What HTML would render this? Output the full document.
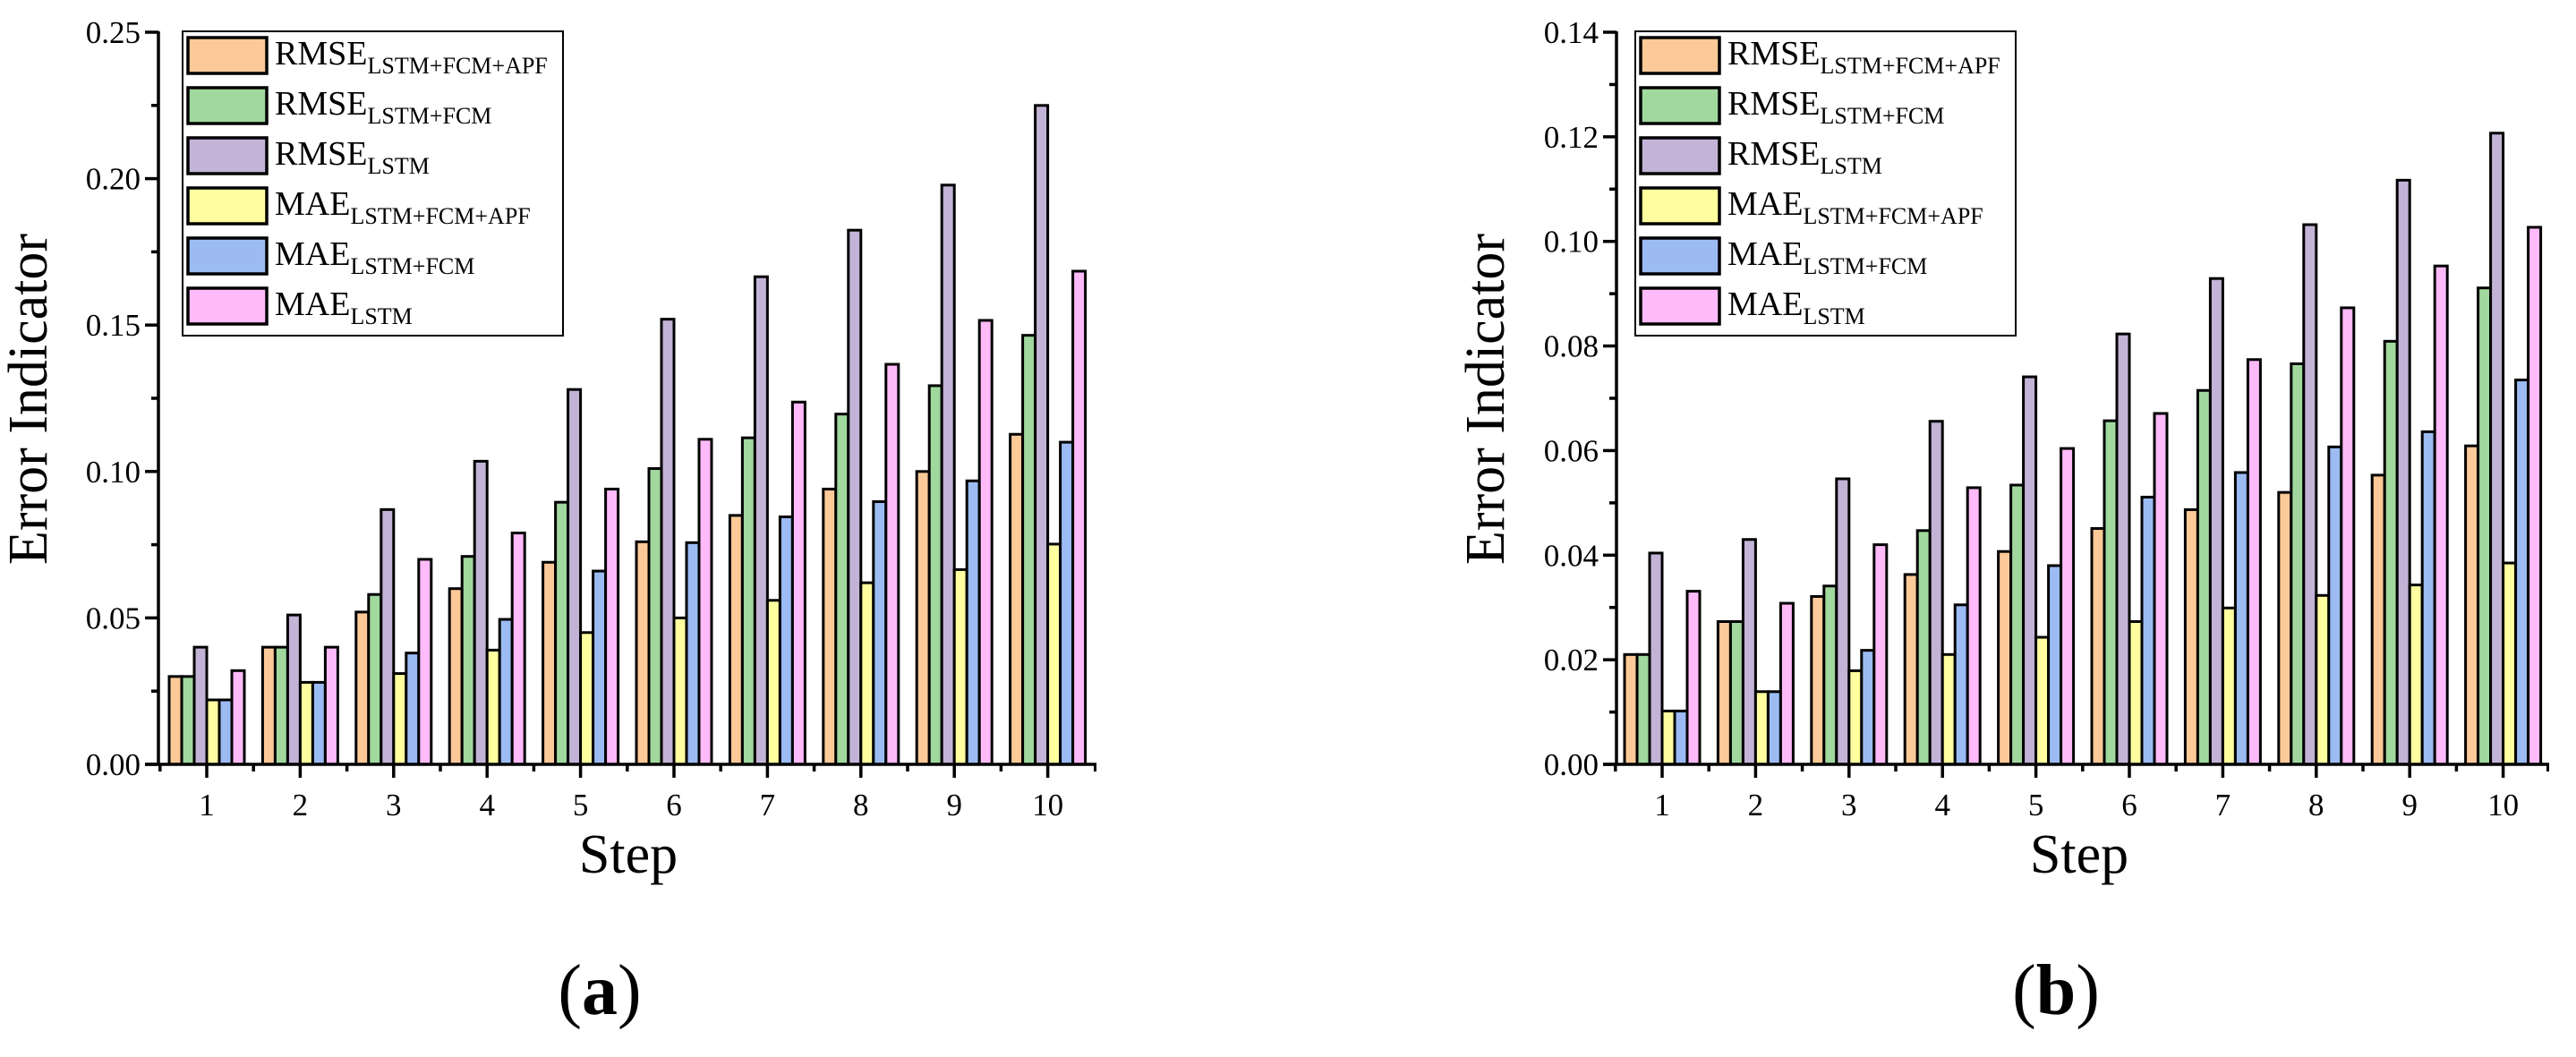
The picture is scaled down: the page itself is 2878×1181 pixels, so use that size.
<!DOCTYPE html>
<html><head><meta charset="utf-8"><style>
html,body{margin:0;padding:0;background:#fff;}
svg{display:block;}
svg text{font-family:"Liberation Serif","Times New Roman",serif;}
</style></head><body>
<svg id="fig" width="2878" height="1181" viewBox="0 0 2878 1181" xmlns="http://www.w3.org/2000/svg" font-family="Liberation Serif, serif"></svg>
<script>
const categories = [1,2,3,4,5,6,7,8,9,10];
const seriesNames = [["RMSE","LSTM+FCM+APF"],["RMSE","LSTM+FCM"],["RMSE","LSTM"],["MAE","LSTM+FCM+APF"],["MAE","LSTM+FCM"],["MAE","LSTM"]];
const seriesColors = ["#FCC998","#A0D89E","#C3B3D6","#FFFF9F","#9BBBF2","#FFBBF9"];
const aRmseApf = [0.030,0.040,0.052,0.060,0.069,0.076,0.085,0.094,0.100,0.1127];
const aRmseFcm = [0.030,0.040,0.058,0.071,0.0895,0.101,0.1115,0.1196,0.1293,0.1465];
const aRmseLstm = [0.040,0.051,0.087,0.1035,0.128,0.152,0.1665,0.1824,0.1978,0.225];
const aMaeApf = [0.022,0.028,0.031,0.039,0.045,0.050,0.056,0.062,0.0665,0.0752];
const aMaeFcm = [0.022,0.028,0.038,0.0495,0.066,0.0757,0.0845,0.0897,0.0968,0.110];
const aMaeLstm = [0.032,0.040,0.070,0.079,0.094,0.111,0.1237,0.1366,0.1516,0.1684];
const bRmseApf = [0.021,0.0273,0.0321,0.0363,0.0407,0.0451,0.0487,0.052,0.0553,0.0609];
const bRmseFcm = [0.021,0.0273,0.0341,0.0447,0.0534,0.0657,0.0715,0.0766,0.0809,0.0911];
const bRmseLstm = [0.0404,0.043,0.0546,0.0656,0.0741,0.0823,0.0929,0.1032,0.1117,0.1207];
const bMaeApf = [0.0102,0.0139,0.0179,0.021,0.0243,0.0273,0.0299,0.0323,0.0343,0.0385];
const bMaeFcm = [0.0102,0.0139,0.0218,0.0305,0.038,0.0511,0.0558,0.0607,0.0636,0.0735];
const bMaeLstm = [0.0331,0.0308,0.042,0.0529,0.0604,0.0671,0.0774,0.0873,0.0953,0.1027];
const aTicks = ["0.00","0.05","0.10","0.15","0.20","0.25"];
const bTicks = ["0.00","0.02","0.04","0.06","0.08","0.10","0.12","0.14"];

const NS="http://www.w3.org/2000/svg";
const svg=document.getElementById('fig');
const FF='Liberation Serif, serif';
function mk(tag,attrs,parent){const e=document.createElementNS(NS,tag);for(const k in attrs)e.setAttribute(k,attrs[k]);if(tag==='text')e.setAttribute('font-family',FF);(parent||svg).appendChild(e);return e;}

function panel(cfg){
  const g=mk('g',{});
  
  
  const y0=854, yTop=36, ax=cfg.ax, axEnd=cfg.axEnd;
  const yS=v=>y0-(v/cfg.ymax)*(y0-yTop);
  const xS=c=>cfg.cat1+(c-1)*104.4;
  const bw=14;
  cfg.series.forEach((arr,si)=>{
    arr.forEach((v,ci)=>{
      const x=xS(categories[ci])-42+si*bw;
      const r=mk('rect',{x:x,y:yS(v),width:bw,height:y0-yS(v),fill:seriesColors[si],stroke:'#000','stroke-width':3},g);
      
      
    });
  });
  const yAxis=mk('line',{x1:ax,y1:yTop-1,x2:ax,y2:y0+1.5,stroke:'#000','stroke-width':3.5},g);
  
  
  const xAxis=mk('line',{x1:ax-15,y1:y0,x2:axEnd,y2:y0,stroke:'#000','stroke-width':3.5},g);
  
  
  const step=cfg.ymax/(cfg.ticks.length-1);
  cfg.ticks.forEach((t,i)=>{
    const v=i*step, y=yS(v);
    mk('line',{x1:ax-15,y1:y,x2:ax,y2:y,stroke:'#000','stroke-width':3.5},g);
    const tx=mk('text',{x:ax-20,y:y+12,'font-size':35,'text-anchor':'end',fill:'#000'},g);
    tx.textContent=t;
    
    
    if(i<cfg.ticks.length-1){const ym=yS(v+step/2);mk('line',{x1:ax-8,y1:ym,x2:ax,y2:ym,stroke:'#000','stroke-width':3.5},g);}
  });
  categories.forEach(c=>{
    const x=xS(c);
    mk('line',{x1:x,y1:y0,x2:x,y2:y0+15,stroke:'#000','stroke-width':3.5},g);
    mk('line',{x1:x-52.2,y1:y0,x2:x-52.2,y2:y0+8,stroke:'#000','stroke-width':3.5},g);
    const tx=mk('text',{x:x,y:911,'font-size':35,'text-anchor':'middle',fill:'#000'},g);
    tx.textContent=c;
    
    
  });
  mk('line',{x1:axEnd-1.5,y1:y0,x2:axEnd-1.5,y2:y0+8,stroke:'#000','stroke-width':3},g);
  const yt=mk('text',{x:0,y:0,'font-size':62,'text-anchor':'middle',fill:'#000',transform:`translate(${cfg.ytx},446) rotate(-90)`},g);
  yt.textContent='Error Indicator';
  
  
  const xt=mk('text',{x:cfg.stepX,y:975,'font-size':62,'text-anchor':'middle',fill:'#000'},g);
  xt.textContent='Step';
  
  
  const lab=mk('text',{x:cfg.labX,y:1133,'font-size':80,'text-anchor':'middle',fill:'#000'},g);
  lab.innerHTML='(<tspan font-weight="bold">'+cfg.letter+'</tspan>)';
  
  
  const lg=mk('g',{},g);
  
  
  mk('rect',{x:cfg.legX,y:35,width:425,height:340,fill:'#fff',stroke:'#000','stroke-width':2},lg);
  seriesNames.forEach((n,i)=>{
    const cy=62+i*56;
    const e=mk('g',{},lg);
    
    
    mk('rect',{x:cfg.legX+6,y:cy-20,width:88,height:40,fill:seriesColors[i],stroke:'#000','stroke-width':3.5},e);
    const t=mk('text',{x:cfg.legX+103,y:cy+10,'font-size':38,fill:'#000'},e);
    t.innerHTML=n[0]+'<tspan font-size="26" dy="10">'+n[1]+'</tspan>';
  });
}
panel({name:'chart-a',letter:'a',ax:177,axEnd:1225,cat1:231,ymax:0.25,ticks:aTicks,ytx:52,stepX:702,labX:670,legX:204,
  series:[aRmseApf,aRmseFcm,aRmseLstm,aMaeApf,aMaeFcm,aMaeLstm]});
panel({name:'chart-b',letter:'b',ax:1806,axEnd:2848,cat1:1857,ymax:0.14,ticks:bTicks,ytx:1680,stepX:2323,labX:2297,legX:1827,
  series:[bRmseApf,bRmseFcm,bRmseLstm,bMaeApf,bMaeFcm,bMaeLstm]});
</script>
</body></html>
